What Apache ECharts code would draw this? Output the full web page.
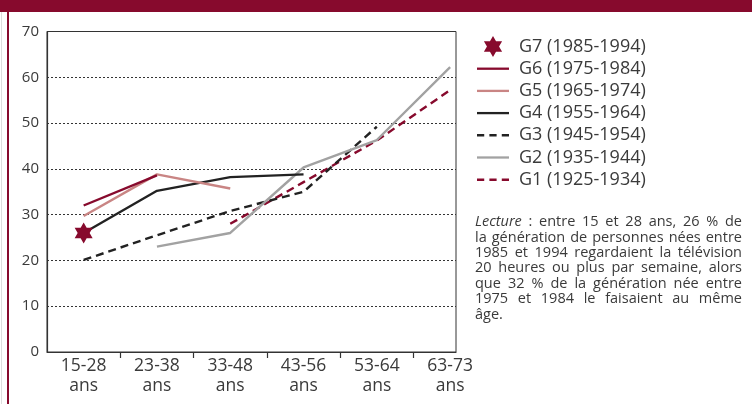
<!DOCTYPE html>
<html>
<head>
<meta charset="utf-8">
<script src="https://cdn.jsdelivr.net/npm/echarts@6.0.0/dist/echarts.min.js"></script>
<style>
  html, body { margin: 0; padding: 0; background: #fff; }
  #chart { width: 756px; height: 404px; }
</style>
</head>
<body>
<div id="chart"></div>
<script>
// tranches d'âge (axe x)
const ages = ['15-28', '23-38', '33-48', '43-56', '53-64', '63-73']
const yTicks = [0, 10, 20, 30, 40, 50, 60, 70]

// part (%) regardant la télé 20 h ou plus par semaine, par génération
const g7 = [26, null, null, null, null, null]
const g6 = [32, 38.6, null, null, null, null]
const g5 = [29.7, 38.8, 35.7, null, null, null]
const g4 = [26, 35.2, 38.2, 38.8, null, null]
const g3 = [20.1, 25.5, 30.8, 35, 49.2, null]
const g2 = [null, 23, 26, 40.3, 46.3, 62.2]
const g1 = [null, null, 28, 37.1, 46.2, 57.2]

const lectureLines = [
  'Lecture : entre 15 et 28 ans, 26 % de',
  'la génération de personnes nées entre',
  '1985 et 1994 regardaient la télévision',
  '20 heures ou plus par semaine, alors',
  'que 32 % de la génération née entre',
  '1975 et 1984 le faisaient au même',
  'âge.'
]

const RED = '#870a2d'
const PINK = '#c98584'
const DARK = '#222222'
const GREY = '#a2a2a2'
const TXT = '#3a3a3a'
const FONT = '"Open Sans", sans-serif'
const STAR = 'path://M10 0 L12.89 5 L18.66 5 L15.77 10 L18.66 15 L12.89 15 L10 20 L7.11 15 L1.34 15 L4.23 10 L1.34 5 L7.11 5 Z'
const ICON_LINE = 'path://M0 0H32V2.3H0Z'
const ICON_DASH = 'path://M0 0H7V2.3H0Z M12 0H19V2.3H12Z M24 0H31V2.3H24Z'

// positions au centre de chaque tranche sur l'axe valeur
function pts(arr) {
  return arr.map((v, i) => [i + 0.5, v]).filter(p => p[1] !== null)
}

function lineSerie(name, arr, color, dashed) {
  return {
    name: name,
    type: 'line',
    data: pts(arr),
    symbol: 'none',
    silent: true,
    z: dashed ? 3 : 4,
    lineStyle: {
      color: color,
      width: 2.4,
      type: dashed ? [8, 5] : 'solid'
    },
    itemStyle: { color: color }
  }
}

// texte justifié, mot par mot
function lectureGraphics() {
  const left = 475, width = 267, top = 221.7, lh = 15.45, size = 14.5
  const ctx = document.createElement('canvas').getContext('2d')
  const out = []
  lectureLines.forEach((line, li) => {
    const words = line.split(' ')
    const styles = words.map((w, wi) => (li === 0 && wi === 0) ? 'italic' : 'normal')
    const widths = words.map((w, wi) => {
      ctx.font = styles[wi] + ' ' + size + 'px ' + FONT
      return ctx.measureText(w).width
    })
    ctx.font = 'normal ' + size + 'px ' + FONT
    let gap = ctx.measureText(' ').width
    const total = widths.reduce((a, b) => a + b, 0)
    if (li < lectureLines.length - 1 && words.length > 1) {
      gap = Math.max(2.5, (width - total) / (words.length - 1))
    }
    let x = left
    words.forEach((w, wi) => {
      out.push({
        type: 'text',
        left: x,
        top: top + li * lh - size * 0.5,
        silent: true,
        style: {
          text: w,
          fill: TXT,
          font: styles[wi] + ' ' + size + 'px ' + FONT
        }
      })
      x += widths[wi] + gap
    })
  })
  return out
}

const chart = echarts.init(document.getElementById('chart'), null, { renderer: 'canvas' })

chart.setOption({
  animation: false,
  backgroundColor: '#ffffff',
  textStyle: { fontFamily: FONT },
  graphic: [
    { type: 'rect', left: 0, top: 0, shape: { width: 752, height: 12 }, style: { fill: RED }, silent: true },
    { type: 'rect', left: 1, top: 12, shape: { width: 1, height: 392 }, style: { fill: '#dddddd' }, silent: true },
    { type: 'rect', left: 7, top: 12, shape: { width: 2, height: 392 }, style: { fill: RED }, silent: true }
  ].concat(lectureGraphics()),
  legend: {
    orient: 'vertical',
    left: 477,
    top: 36,
    padding: 0,
    itemWidth: 32,
    itemHeight: 21,
    itemGap: 1.2,
    selectedMode: false,
    data: [
      { name: 'G7 (1985-1994)' },
      { name: 'G6 (1975-1984)', icon: ICON_LINE },
      { name: 'G5 (1965-1974)', icon: ICON_LINE },
      { name: 'G4 (1955-1964)', icon: ICON_LINE },
      { name: 'G3 (1945-1954)', icon: ICON_DASH },
      { name: 'G2 (1935-1944)', icon: ICON_LINE },
      { name: 'G1 (1925-1934)', icon: ICON_DASH }
    ],
    textStyle: { color: TXT, fontSize: 18, lineHeight: 21, fontFamily: FONT, padding: [0, 0, 0, 5] }
  },
  grid: {
    left: 47,
    top: 31.5,
    width: 409,
    height: 320.5,
    show: true,
    borderColor: '#333',
    borderWidth: 1,
    backgroundColor: 'transparent'
  },
  xAxis: {
    type: 'value',
    min: 0,
    max: 5.58,
    axisLine: { show: true, lineStyle: { color: '#333', width: 1.2 } },
    axisTick: {
      show: true,
      customValues: [1, 2, 3, 4, 5],
      length: 6,
      lineStyle: { color: '#333', width: 1.2 }
    },
    splitLine: { show: false },
    axisLabel: {
      customValues: ages.map((a, i) => i + 0.5),
      formatter: v => ages[Math.round(v - 0.5)] + '\nans',
      color: TXT,
      fontSize: 17.5,
      lineHeight: 19.7,
      margin: 4,
      fontFamily: FONT
    }
  },
  yAxis: {
    type: 'value',
    min: yTicks[0],
    max: yTicks[yTicks.length - 1],
    interval: 10,
    axisLine: { show: true, lineStyle: { color: '#333', width: 1.2 } },
    axisTick: { show: false },
    axisLabel: { color: TXT, fontSize: 15, margin: 8, fontFamily: FONT },
    splitLine: { show: true, lineStyle: { color: '#333', type: [2, 2], width: 1 } }
  },
  series: [
    lineSerie('G1 (1925-1934)', g1, RED, true),
    lineSerie('G2 (1935-1944)', g2, GREY, false),
    lineSerie('G3 (1945-1954)', g3, DARK, true),
    lineSerie('G4 (1955-1964)', g4, DARK, false),
    lineSerie('G5 (1965-1974)', g5, PINK, false),
    lineSerie('G6 (1975-1984)', g6, RED, false),
    {
      name: 'G7 (1985-1994)',
      type: 'scatter',
      data: pts(g7),
      symbol: STAR,
      symbolSize: [18, 21],
      itemStyle: { color: RED, opacity: 1 },
      silent: true,
      z: 5
    }
  ]
})
</script>
</body>
</html>
